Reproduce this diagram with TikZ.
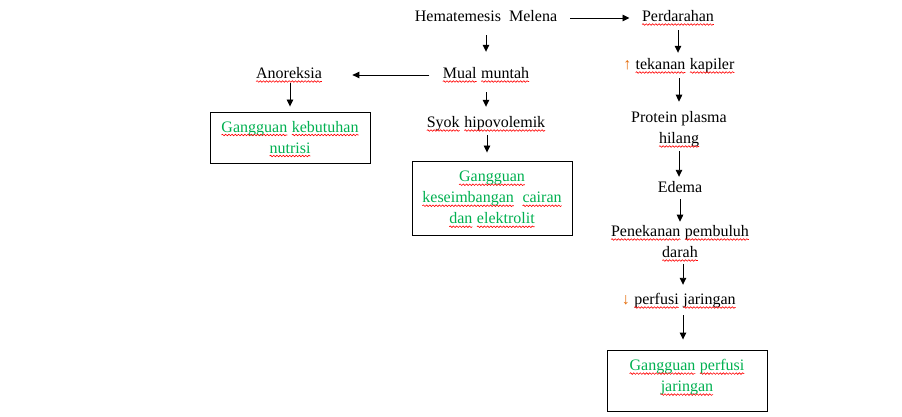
\documentclass[tikz,border=0pt]{standalone}
\usepackage{fontspec}
\setmainfont{Liberation Serif}
\usetikzlibrary{arrows.meta,decorations.pathmorphing}
\definecolor{wgreen}{HTML}{00B050}
\definecolor{worange}{HTML}{E46C0A}
\newcommand\sq[1]{\tikz[baseline=(w.base)]{\node[inner sep=0pt,outer sep=0pt] (w) {#1};
  \draw[red,line width=0.6pt,decorate,decoration={snake,amplitude=0.8pt,segment length=3.2pt}] ([yshift=-3pt]w.base west) -- ([yshift=-3pt]w.base east);}}
\begin{document}
\begin{tikzpicture}[x=1pt,y=-1pt,
  txt/.style={inner sep=0pt,font=\fontsize{16}{21}\selectfont,text height=11pt,text depth=4pt},
  mtxt/.style={inner sep=0pt,font=\fontsize{16}{21}\selectfont,align=center},
  gtxt/.style={mtxt,text=wgreen},
  boxn/.style={draw,line width=0.9pt,inner sep=0pt},
  arr/.style={-{Triangle[length=7pt,width=6.5pt]},line width=0.9pt}]
\useasboundingbox (0,0) rectangle (902,417);
% left/middle
\node[txt] (hm) at (486,18) {Hematemesis\ \ Melena};
\node[txt] (mm) at (486,75) {\sq{Mual} \sq{muntah}};
\node[txt] (an) at (289,75) {\sq{Anoreksia}};
\node[txt] (sh) at (486,124) {\sq{Syok} \sq{hipovolemik}};
\node[boxn,minimum width=160pt,minimum height=51pt] (b1) at (290,137.5) {};
\node[gtxt] (b1t) at (290,139) {\sq{Gangguan} \sq{kebutuhan}\\\sq{nutrisi}};
\node[boxn,minimum width=160pt,minimum height=74pt] (b2) at (492,198) {};
\node[gtxt] (b2t) at (492,199.5) {\sq{Gangguan}\\\sq{keseimbangan}\ \ \sq{cairan}\\\sq{dan} \sq{elektrolit}};
% right column
\node[txt] (pd) at (678,18) {\sq{Perdarahan}};
\node[txt] (tk) at (679,66) {{\color{worange}↑} \sq{tekanan} \sq{kapiler}};
\node[mtxt] (pp) at (679,129.5) {Protein plasma\\\sq{hilang}};
\node[txt] (ed) at (680,189) {Edema};
\node[mtxt] (pe) at (680,243.5) {\sq{Penekanan} \sq{pembuluh}\\\sq{darah}};
\node[txt] (pf) at (679,301) {{\color{worange}↓} \sq{perfusi} \sq{jaringan}};
\node[boxn,minimum width=160pt,minimum height=61pt] (b3) at (687,380.5) {};
\node[gtxt] (b3t) at (687,377.5) {\sq{Gangguan} \sq{perfusi}\\\sq{jaringan}};
% connectors
\draw[arr,yshift=2pt,shorten <=13pt,shorten >=12pt] (hm.east) -- (pd.west);
\draw[arr,shorten <=9.5pt,shorten >=15.5pt] (hm.south -| mm.south) -- (mm.north);
\draw[arr,yshift=-3pt,shorten <=13pt,shorten >=30pt] (mm.west) -- (an.east);
\draw[arr,shorten <=0.5pt,shorten >=5pt] ([xshift=1pt]an.south) -- ([xshift=1pt]an.south |- b1.north);
\draw[arr,shorten <=9.5pt,shorten >=9.5pt] (mm.south) -- (sh.north);
\draw[arr,shorten <=3.5pt,shorten >=8pt] ([xshift=1pt]sh.south) -- ([xshift=1pt]sh.south |- b2.north);
\draw[arr,shorten <=4.5pt,shorten >=5.5pt] (pd.south) -- (pd.south |- tk.north);
\draw[arr,shorten <=4.5pt,shorten >=9.5pt] (tk.south) -- (tk.south |- pp.north);
\draw[arr,shorten <=3.5pt,shorten >=4.5pt] (pp.south) -- (pp.south |- ed.north);
\draw[arr,shorten <=2.5pt,shorten >=3.5pt] (ed.south) -- (ed.south |- pe.north);
\draw[arr,shorten <=2.5pt,shorten >=8.5pt] ([xshift=3pt]pe.south) -- ([xshift=3pt]pe.south |- pf.north);
\draw[arr,shorten <=6.5pt,shorten >=10pt] ([xshift=4pt]pf.south) -- ([xshift=4pt]pf.south |- b3.north);
\end{tikzpicture}
\end{document}
